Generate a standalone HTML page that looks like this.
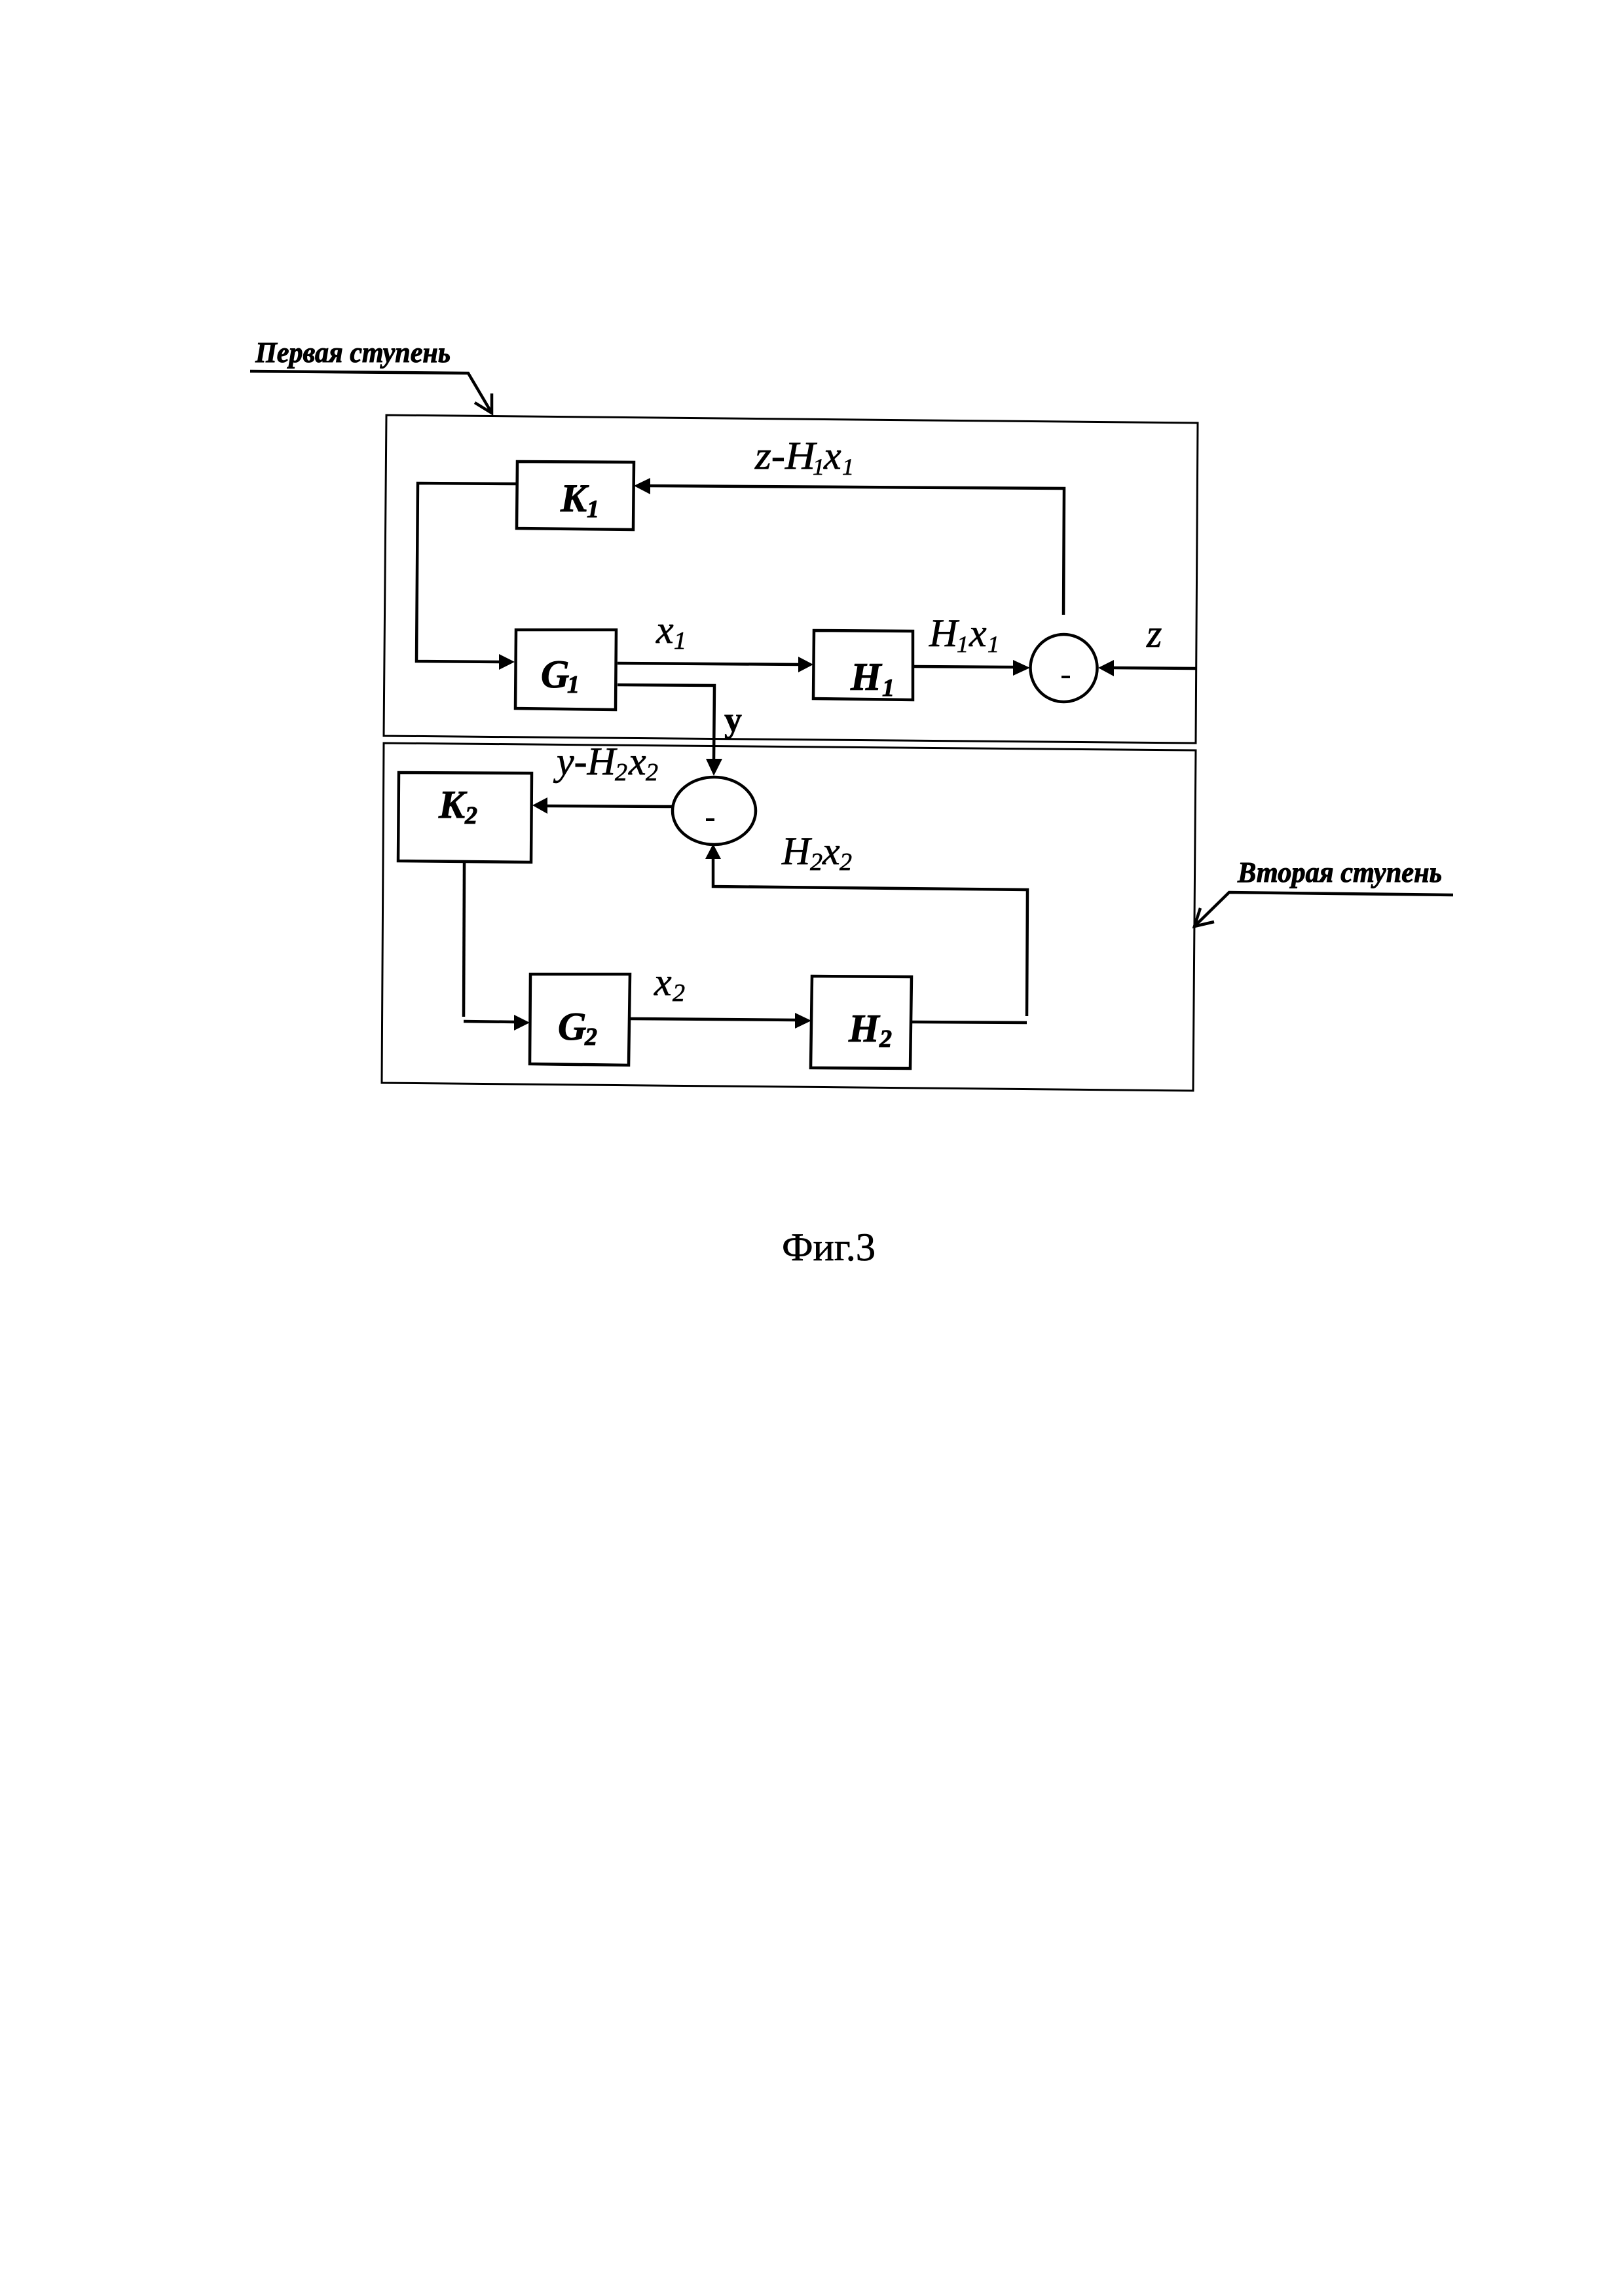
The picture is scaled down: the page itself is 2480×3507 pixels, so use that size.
<!DOCTYPE html>
<html lang="ru"><head><meta charset="utf-8"><title>Фиг.3</title>
<style>
html,body{margin:0;padding:0;background:#fff}
svg{display:block}
text{font-family:"Liberation Serif",serif;fill:#000;stroke:#000;stroke-width:.7}
.b{font-weight:bold;font-style:italic;stroke-width:1}
.i{font-style:italic}
</style></head><body>
<svg width="2480" height="3507" viewBox="0 0 2480 3507" xmlns="http://www.w3.org/2000/svg">
<rect width="2480" height="3507" fill="#fff"/>
<g fill="none" stroke="#000" stroke-width="3">
<polygon points="590,634 1829,646 1826,1135 586,1124"/>
<polygon points="586,1135 1826,1146 1822,1666 583,1654"/>
<g stroke-width="4.5">
<polygon points="790,705 968,706 967,809 789,807"/>
<polygon points="788,962 941,962 940,1084 787,1082"/>
<polygon points="1243,963 1394,964 1394,1069 1242,1067"/>
<polygon points="609,1180 812,1181 811,1317 608,1315"/>
<polygon points="810,1488 962,1488 960,1627 809,1625"/>
<polygon points="1240,1491 1392,1492 1390,1632 1238,1631"/>
<ellipse cx="1624.5" cy="1020.5" rx="51" ry="51.5"/>
<ellipse cx="1090.5" cy="1238.5" rx="63.5" ry="51.5"/>
<polyline points="1624,939 1625,746 990,742"/>
<polyline points="789,739 638,738 636,1010 765,1011"/>
<polyline points="943,1013 1222,1015"/>
<polyline points="943,1046 1091,1047 1090,1162"/>
<polyline points="1395,1018 1550,1019"/>
<polyline points="1826,1021 1698,1020"/>
<polyline points="1027,1232 834,1231"/>
<polyline points="709,1317 708,1553"/>
<polyline points="708,1560 787,1561"/>
<polyline points="962,1556 1216,1558"/>
<polyline points="1393,1561 1568,1562"/>
<polyline points="1568,1552 1569,1359 1089,1354 1089,1308"/>
<polyline points="382,567 715,570 751,631"/>
<polyline points="751,601 751,631 725,615"/>
<polyline points="2219,1367 1877,1363 1824,1415"/>
<polyline points="1833,1387 1824,1415 1854,1408"/>
</g>
</g>
<g fill="#000">
<polygon points="968,742 993,730 993,755"/>
<polygon points="786,1011 762,999 762,1023"/>
<polygon points="1242,1015 1219,1003 1219,1027"/>
<polygon points="1573,1020 1547,1008 1547,1032"/>
<polygon points="1677,1020 1701,1008 1701,1033"/>
<polygon points="1090,1185 1078,1159 1103,1159"/>
<polygon points="813,1230 836,1218 836,1243"/>
<polygon points="1089,1289 1077,1312 1101,1312"/>
<polygon points="809,1562 785,1550 785,1574"/>
<polygon points="1239,1559 1214,1547 1214,1571"/>
<rect x="1621" y="1032" width="13" height="4"/>
<rect x="1078" y="1250" width="13" height="4"/>
</g>

<text class="b" x="390" y="553" font-size="44" textLength="298" lengthAdjust="spacingAndGlyphs">Первая ступень</text>
<text class="b" x="1890" y="1347" font-size="44" textLength="312" lengthAdjust="spacingAndGlyphs">Вторая ступень</text>

<text class="b" x="856" y="781" font-size="60">K</text><text class="b" x="896" y="790" font-size="38">1</text>
<text class="b" x="826" y="1050" font-size="60">G</text><text class="b" x="866" y="1058" font-size="38">1</text>
<text class="b" x="1299" y="1054" font-size="60">H</text><text class="b" x="1347" y="1063" font-size="38">1</text>
<text class="b" x="670" y="1249" font-size="60">K</text><text class="b" x="710" y="1258" font-size="38">2</text>
<text class="b" x="852" y="1588" font-size="60">G</text><text class="b" x="893" y="1596" font-size="38">2</text>
<text class="b" x="1296" y="1591" font-size="60">H</text><text class="b" x="1343" y="1599" font-size="38">2</text>

<text class="i" x="1153" y="716" font-size="60" textLength="92" lengthAdjust="spacingAndGlyphs">z-H</text><text class="i" x="1241" y="725" font-size="36">1</text><text class="i" x="1258" y="716" font-size="60">x</text><text class="i" x="1286" y="725" font-size="36">1</text>
<text class="i" x="1002" y="982" font-size="60">x</text><text class="i" x="1029" y="991" font-size="38">1</text>
<text class="i" x="1419" y="987" font-size="60">H</text><text class="i" x="1461" y="996" font-size="36">1</text><text class="i" x="1480" y="987" font-size="60">x</text><text class="i" x="1508" y="996" font-size="36">1</text>
<text class="i" x="1751" y="988" font-size="60">z</text>
<text x="1106" y="1117" font-size="54" font-weight="bold">y</text>
<text class="i" x="850" y="1183" font-size="60">y-H</text><text class="i" x="939" y="1192" font-size="38">2</text><text class="i" x="960" y="1183" font-size="60">x</text><text class="i" x="986" y="1192" font-size="38">2</text>
<text class="i" x="1194" y="1320" font-size="60">H</text><text class="i" x="1237" y="1329" font-size="38">2</text><text class="i" x="1256" y="1320" font-size="60">x</text><text class="i" x="1282" y="1329" font-size="38">2</text>
<text class="i" x="999" y="1520" font-size="60">x</text><text class="i" x="1027" y="1529" font-size="38">2</text>
<text x="1194" y="1925" font-size="60" textLength="143" lengthAdjust="spacingAndGlyphs">Фиг.3</text>
</svg>
</body></html>
